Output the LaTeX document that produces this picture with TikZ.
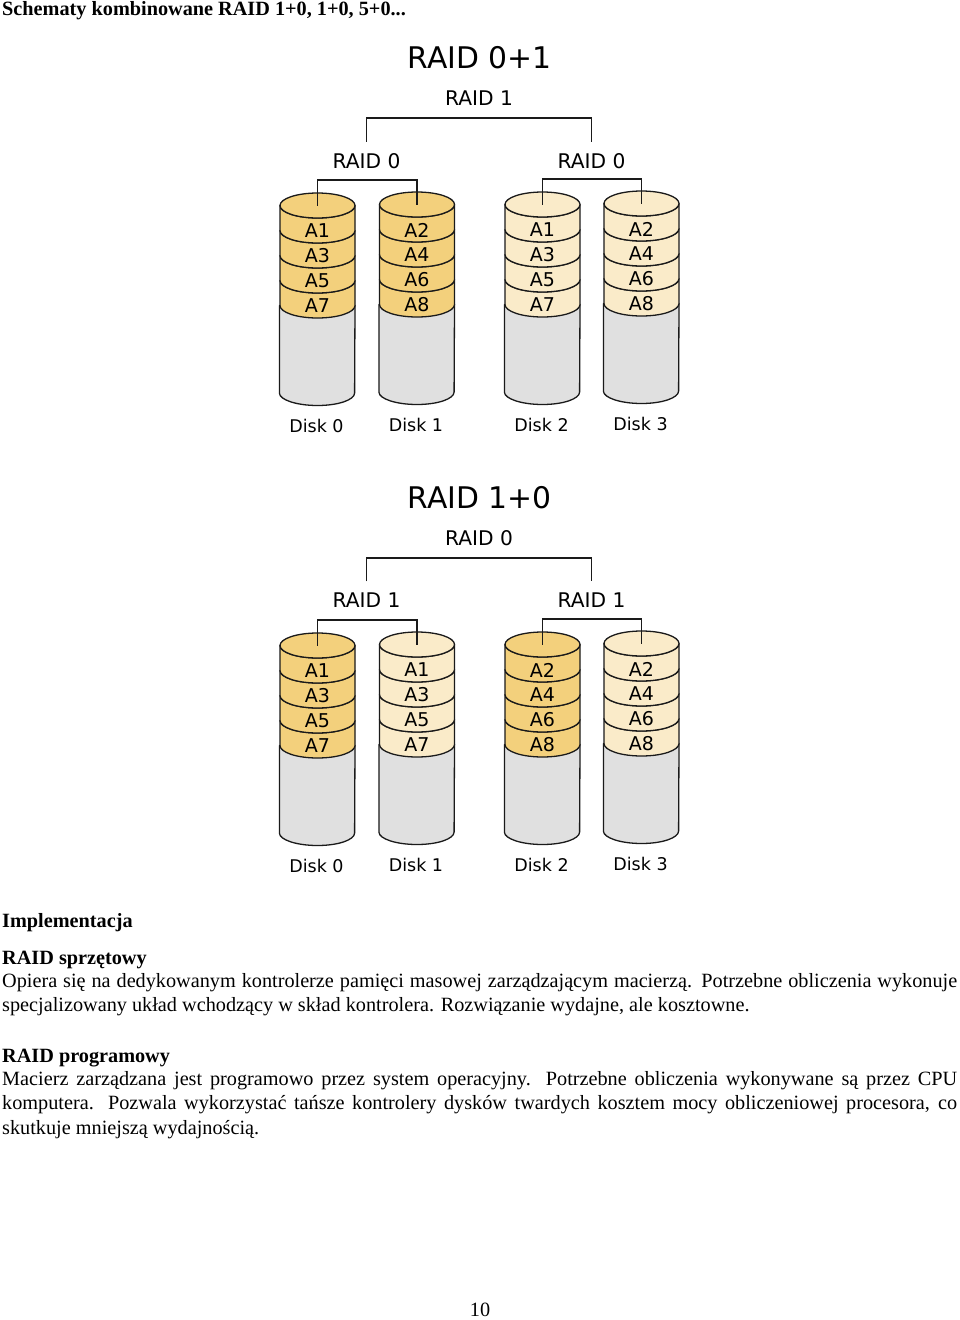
\documentclass[tikz,border=0pt]{standalone}
\usepackage{fontspec}
\setmainfont{Liberation Serif}
\newfontfamily\dejavu{DejaVu Sans}
\definecolor{dark}{HTML}{F3D07C}
\definecolor{light}{HTML}{FAEBC9}
\definecolor{platter}{HTML}{E0E0E0}
\definecolor{ink}{HTML}{1A1A1A}
\tikzset{
  outline/.style={draw=ink,line width=1.3pt,line join=round},
  link/.style={draw=ink,line width=1.4pt},
  title/.style={font=\dejavu\fontsize{29.8}{30}\selectfont,inner sep=0pt},
  raidname/.style={font=\dejavu\fontsize{20.2}{20.5}\selectfont,inner sep=0pt,minimum height=38pt},
  cell/.style={font=\dejavu\fontsize{19}{19}\selectfont,inner sep=0pt,text=black},
  disklabel/.style={font=\dejavu\fontsize{17.5}{18}\selectfont,inner sep=0pt},
  para/.style={anchor=north west,inner sep=0pt,text width=955pt,align=justify,font=\fontsize{20.25}{24.6}\selectfont},
  head/.style={anchor=west,inner sep=0pt,font=\bfseries\fontsize{20.25}{24.6}\selectfont},
}
% lower half of the ellipse, left to right, local to the band
\newcommand{\lowarc}{.. controls (0,6.9) and (16.8,12.5) .. (37.5,12.5) .. controls (58.2,12.5) and (75,6.9) .. (75,0)}
\newcommand{\backarc}{.. controls (75,-18.1) and (58.2,-12.5) .. (37.5,-12.5) .. controls (16.8,-12.5) and (0,-18.1) .. (0,-25)}
% \drive{name}{x}{ytop}{colour}{a}{b}{c}{d}{label}
\newcommand{\drive}[9]{%
  \begin{scope}[shift={(#2,#3)}]
    \path[outline,fill=platter] (-0.6,100) -- (-0.6,187.5) .. controls (-0.6,194.4) and (16.8,200) .. (37.5,200) .. controls (58.2,200) and (74.6,194.4) .. (74.6,187.5) -- (75,100) -- cycle;
    \foreach \yy in {100,75,50,25} {
      \begin{scope}[shift={(0,\yy)}]
        \path[outline,fill=#4] (0,-25) -- (0,0) \lowarc -- (75,-25) \backarc -- cycle;
      \end{scope}
    }
    \path[outline,fill=#4] (37.5,0) ellipse[x radius=37.5pt,y radius=12.5pt];
    \coordinate (#1c) at (37.5,0);
    \node[cell] (#1a) at (37.5,25.5) {#5};
    \node[cell] (#1b) at (37.5,50.5) {#6};
    \node[cell] (#1d) at (37.5,75.5) {#7};
    \node[cell] (#1e) at (37.5,100.5) {#8};
    \node[disklabel] (#1l) at (36.5,220) {#9};
  \end{scope}}
\begin{document}
\begin{tikzpicture}[x=1pt,y=-1pt]
\useasboundingbox[fill=white] (0,0) rectangle (960,1320);
\node[head] (heading) at (2,10.5) {Schematy kombinowane RAID 1+0, 1+0, 5+0...};

% RAID 0+1
\node[title] (t1) at (479.5,57.5) {RAID 0+1};
\node[raidname] (t1top) at (479,98) {RAID 1};
\node[raidname] (t1l) at (366.5,161) {RAID 0};
\node[raidname] (t1r) at (591.5,161) {RAID 0};
\coordinate (t1bar) at (479,118);
\coordinate (t1lbar) at (367,180);
\coordinate (t1rbar) at (592,179);
\drive{a}{280}{205.5}{dark}{A1}{A3}{A5}{A7}{Disk 0}
\drive{b}{379.5}{204.5}{dark}{A2}{A4}{A6}{A8}{Disk 1}
\drive{c}{505}{204.5}{light}{A1}{A3}{A5}{A7}{Disk 2}
\drive{d}{604}{203.5}{light}{A2}{A4}{A6}{A8}{Disk 3}
\draw[link] (t1l.north) |- (t1bar) -| (t1r.north);
\draw[link] (ac) |- (t1lbar) -| (bc);
\draw[link] (cc) |- (t1rbar) -| (dc);

% RAID 1+0
\node[title] (t2) at (479.5,497.5) {RAID 1+0};
\node[raidname] (t2top) at (479,538) {RAID 0};
\node[raidname] (t2l) at (366.5,600.5) {RAID 1};
\node[raidname] (t2r) at (591.5,600.5) {RAID 1};
\coordinate (t2bar) at (479,558);
\coordinate (t2lbar) at (367,620);
\coordinate (t2rbar) at (592,619);
\drive{e}{280}{645.5}{dark}{A1}{A3}{A5}{A7}{Disk 0}
\drive{f}{379.5}{644.5}{light}{A1}{A3}{A5}{A7}{Disk 1}
\drive{g}{505}{644.5}{dark}{A2}{A4}{A6}{A8}{Disk 2}
\drive{h}{604}{643.5}{light}{A2}{A4}{A6}{A8}{Disk 3}
\draw[link] (t2l.north) |- (t2bar) -| (t2r.north);
\draw[link] (ec) |- (t2lbar) -| (fc);
\draw[link] (gc) |- (t2rbar) -| (hc);

% text
\node[head] (impl) at (2,923) {Implementacja};
\node[head] (hw) at (2,960) {RAID sprzętowy};
\node[para] (hwtext) at (2,973) {\hyphenpenalty=10000 Opiera się na dedykowanym kontrolerze pamięci masowej zarządzającym macierzą. Potrzebne obliczenia wykonuje\linebreak specjalizowany układ wchodzący w skład kontrolera. Rozwiązanie wydajne, ale kosztowne.};
\node[head] (sw) at (2,1058) {RAID programowy};
\node[para] (swtext) at (2,1071) {\hyphenpenalty=10000 Macierz zarządzana jest programowo przez system operacyjny. Potrzebne obliczenia wykonywane są przez CPU\linebreak komputera. Pozwala wykorzystać tańsze kontrolery dysków twardych kosztem mocy obliczeniowej procesora, co\linebreak skutkuje mniejszą wydajnością.};
\node[inner sep=0pt,font=\fontsize{20.25}{24}\selectfont] (pageno) at (480,1310) {10};
\end{tikzpicture}
\end{document}
